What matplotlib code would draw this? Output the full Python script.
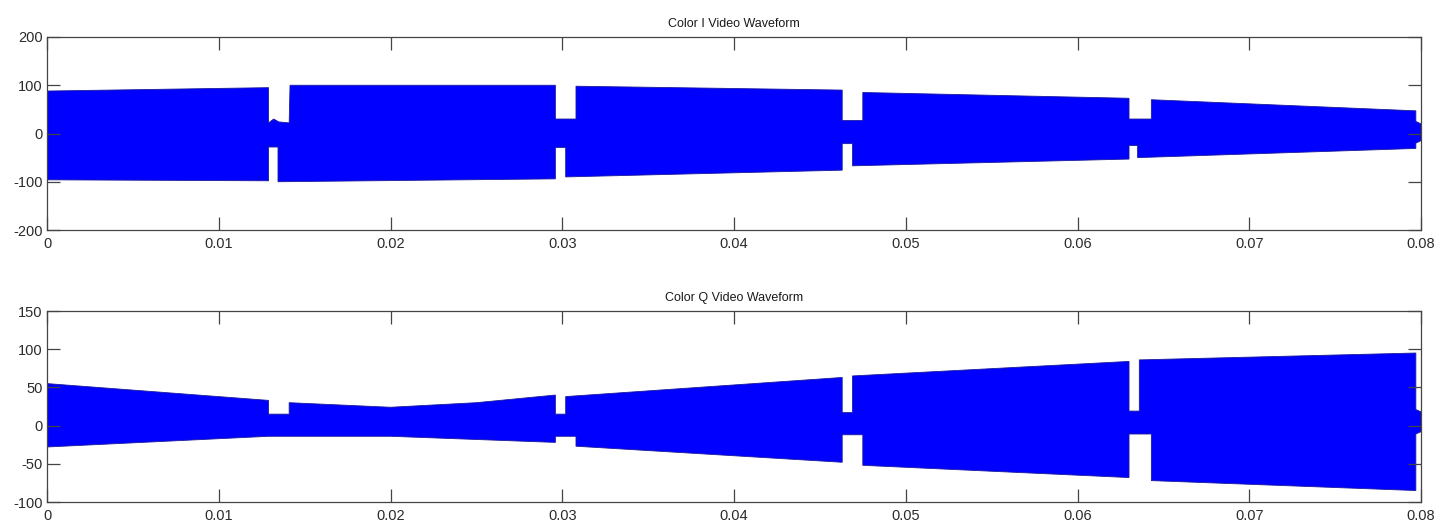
import matplotlib
matplotlib.use("Agg")
import matplotlib.pyplot as plt
import numpy as np

# ---- data: envelope of the waveforms ----
# Color I waveform: upper envelope
i_up_t = [0.0, 0.0129, 0.0129, 0.0132, 0.0135, 0.0141, 0.01415, 0.0296, 0.0296, 0.0308, 0.0308,
          0.0463, 0.0463, 0.0475, 0.0475, 0.0630, 0.0630, 0.0643, 0.0643, 0.0797, 0.0797, 0.0800]
i_up_v = [88, 95, 22, 30, 24, 22, 100, 100, 30, 30, 98,
          90, 27, 27, 85, 73, 30, 30, 70, 47, 25, 20]
# Color I waveform: lower envelope
i_lo_t = [0.0, 0.0129, 0.0129, 0.01345, 0.01345, 0.0296, 0.0296, 0.0302, 0.0302,
          0.0463, 0.0463, 0.0469, 0.0469, 0.0630, 0.0630, 0.0635, 0.0635, 0.0797, 0.0797, 0.0800]
i_lo_v = [-96, -98, -28, -28, -100, -94, -29, -29, -90,
          -76, -21, -21, -67, -53, -25, -25, -50, -31, -20, -15]

# Color Q waveform: upper envelope
q_up_t = [0.0, 0.0129, 0.0129, 0.0141, 0.0141, 0.0200, 0.0250, 0.0296, 0.0296, 0.0302, 0.0302,
          0.0463, 0.0463, 0.0469, 0.0469, 0.0630, 0.0630, 0.0636, 0.0636, 0.0797, 0.0797, 0.0800]
q_up_v = [55, 33, 15, 15, 30, 24, 30, 40, 15, 15, 38,
          63, 17, 17, 65, 84, 19, 19, 86, 95, 21, 18]
# Color Q waveform: lower envelope
q_lo_t = [0.0, 0.0129, 0.0200, 0.0296, 0.0296, 0.0308, 0.0308, 0.0463, 0.0463, 0.0475, 0.0475,
          0.0630, 0.0630, 0.0643, 0.0643, 0.0797, 0.0797, 0.0800]
q_lo_v = [-28, -14, -14, -22, -14, -14, -27, -48, -12, -12, -52,
          -68, -11, -11, -72, -85, -11, -8]

titles = ["Color I Video Waveform", "Color Q Video Waveform"]
x_ticks = [0, 0.01, 0.02, 0.03, 0.04, 0.05, 0.06, 0.07, 0.08]
x_ticklabels = ["0", "0.01", "0.02", "0.03", "0.04", "0.05", "0.06", "0.07", "0.08"]
i_yticks = [-200, -100, 0, 100, 200]
q_yticks = [-100, -50, 0, 50, 100, 150]

plt.rcParams['font.family'] = ['Liberation Sans', 'DejaVu Sans']
plt.rcParams['axes.unicode_minus'] = False

fig = plt.figure(figsize=(14.42, 5.23), dpi=100)
W, H = 1442, 523
ax1 = fig.add_axes([47 / W, 1 - 230 / H, (1421 - 47) / W, (230 - 37) / H])
ax2 = fig.add_axes([47 / W, 1 - 502 / H, (1421 - 47) / W, (502 - 311) / H])

wave_color = '#0000ff'
edge_color = '#1c1c9c'
txt = '#2b2b2b'

def draw(ax, ut, uv, lt, lv, title, yticks):
    px = list(ut) + list(lt)[::-1]
    py = list(uv) + list(lv)[::-1]
    ax.fill(px, py, facecolor=wave_color, edgecolor=edge_color, linewidth=0.6)
    ax.set_xlim(0, 0.08)
    ax.set_ylim(yticks[0], yticks[-1])
    ax.set_xticks(x_ticks)
    ax.set_xticklabels(x_ticklabels)
    ax.set_yticks(yticks)
    ax.tick_params(direction='in', length=9.5, width=0.9, top=True, right=True,
                   labelsize=10.5, colors='#444444', labelcolor=txt, pad=3)
    ax.tick_params(axis='x', pad=5)
    for s in ax.spines.values():
        s.set_color('#444444')
        s.set_linewidth(0.9)
    ax.set_title(title, fontsize=9, color='#1a1a1a', pad=7)

draw(ax1, i_up_t, i_up_v, i_lo_t, i_lo_v, titles[0], i_yticks)
draw(ax2, q_up_t, q_up_v, q_lo_t, q_lo_v, titles[1], q_yticks)

fig.savefig('out.png', dpi=100)
